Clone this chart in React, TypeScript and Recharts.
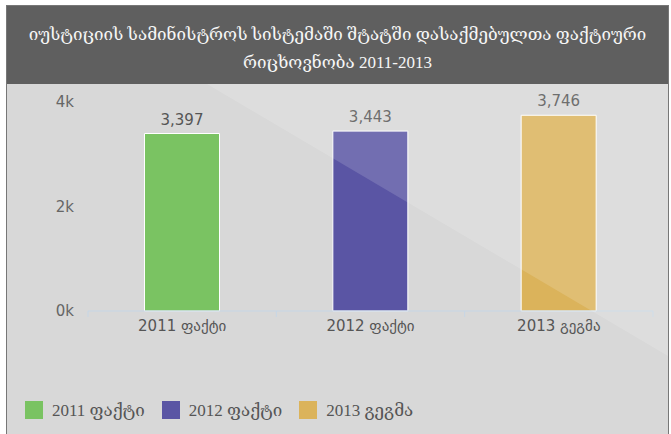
import React from 'react';
import { BarChart, Bar, XAxis, YAxis, Cell, LabelList } from 'recharts';

const TITLE_LINES = ['იუსტიციის სამინისტროს სისტემაში შტატში დასაქმებულთა ფაქტიური', 'რიცხოვნობა 2011-2013'];
const categories = ['2011 ფაქტი', '2012 ფაქტი', '2013 გეგმა'];
const values = [3397, 3443, 3746];
const colors = ['#7ac362', '#5a55a4', '#dbb35b'];
const yTicks = [0, 2000, 4000];

const data = categories.map((name, i) => ({ name, value: values[i] }));

const CHART_W = 661;
const CHART_H = 250;
const MARGIN = { top: 18, right: 15, left: 0, bottom: 0 };
const YAXIS_W = 81;
const PLOT_W = CHART_W - MARGIN.left - MARGIN.right - YAXIS_W;
const BW = PLOT_W / categories.length;
const FONT = "'DejaVu Sans', sans-serif";
const SERIF = "'Liberation Serif', 'DejaVu Serif', 'DejaVu Sans', serif";

function XTick(props: any) {
  const { x, y, payload, index } = props;
  const axisY = y - 6;
  const c = '#c6d6e6';
  return (
    <g>
      <line x1={x - BW / 2} x2={x - BW / 2} y1={axisY} y2={axisY + 6} stroke={c} />
      {index === categories.length - 1 && (
        <line x1={x + BW / 2} x2={x + BW / 2} y1={axisY} y2={axisY + 6} stroke={c} />
      )}
      <text x={x} y={y + 14} textAnchor="middle" fill="#555" fontSize={15} fontFamily={FONT}>
        {payload.value}
      </text>
    </g>
  );
}

export default function App() {
  return (
    <div style={{ position: 'absolute', left: 0, top: 0, width: 671, height: 434, background: '#fff', overflow: 'hidden', fontFamily: FONT }}>
      <div style={{ position: 'absolute', left: 6, top: 5, width: 663, height: 440, background: '#d8d8d8', border: '1px solid #777', boxSizing: 'border-box' }} />
      <div style={{ position: 'absolute', left: 7, top: 6, width: 661, height: 78, background: '#5f5f5f', color: '#f6f6f6', textAlign: 'center', fontSize: 17, lineHeight: '28px', paddingTop: 15, boxSizing: 'border-box', fontFamily: SERIF }}>
        {TITLE_LINES.map((t, i) => (
          <div key={i} style={{ whiteSpace: 'nowrap' }}>{t}</div>
        ))}
      </div>
      <div style={{ position: 'absolute', left: 7, top: 84 }}>
        <BarChart width={CHART_W} height={CHART_H} data={data} margin={MARGIN} barCategoryGap="30%">
          <XAxis
            dataKey="name"
            height={23}
            axisLine={{ stroke: '#c6d6e6' }}
            tickLine={false}
            tickSize={6}
            tickMargin={0}
            tick={(p: any) => <XTick {...p} />}
            interval={0}
          />
          <YAxis
            width={YAXIS_W}
            domain={[0, 4000]}
            ticks={yTicks}
            axisLine={false}
            tickLine={false}
            tickMargin={8}
            tickFormatter={(v: number) => `${v / 1000}k`}
            tick={{ fill: '#666', fontSize: 15, fontFamily: FONT }}
          />
          <Bar dataKey="value" isAnimationActive={false} stroke="#fff" strokeWidth={1}>
            {data.map((d, i) => (
              <Cell key={d.name} fill={colors[i]} />
            ))}
            <LabelList
              dataKey="value"
              position="top"
              offset={9}
              fill="#555"
              fontSize={15}
              fontFamily={FONT}
              formatter={(v: any) => Number(v).toLocaleString('en-US')}
            />
          </Bar>
        </BarChart>
      </div>
      <div style={{ position: 'absolute', left: 25, top: 401, height: 18, display: 'flex', alignItems: 'center', fontSize: 17, color: '#555', fontFamily: SERIF }}>
        {categories.map((c, i) => (
          <div key={c} style={{ display: 'flex', alignItems: 'center', marginRight: 17 }}>
            <div style={{ width: 18, height: 18, background: colors[i], marginRight: 9 }} />
            <span style={{ whiteSpace: 'nowrap' }}>{c}</span>
          </div>
        ))}
      </div>
      <svg width={671} height={434} style={{ position: 'absolute', left: 0, top: 0, pointerEvents: 'none' }}>
        <polygon points="207,84 668,84 668,356" fill="#fff" fillOpacity={0.15} />
      </svg>
    </div>
  );
}
